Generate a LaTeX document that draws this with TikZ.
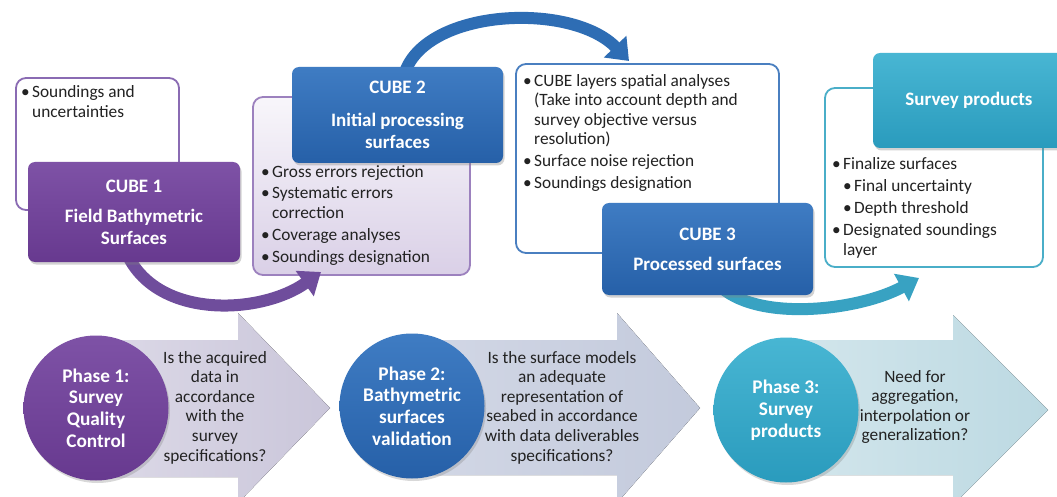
\documentclass[tikz,border=0pt]{standalone}
\usepackage{fontspec}
\setmainfont{Carlito}
\usetikzlibrary{arrows.meta,shadows}
\definecolor{purL}{HTML}{8A6BB3}
\definecolor{purD}{HTML}{67398F}
\definecolor{purT}{HTML}{7E52A6}
\definecolor{purA}{HTML}{6F4D9C}
\definecolor{bluT}{HTML}{3F7CC3}
\definecolor{bluD}{HTML}{2660A8}
\definecolor{bluL}{HTML}{4A7FC0}
\definecolor{bluA}{HTML}{2E6DB4}
\definecolor{tealT}{HTML}{48B6D3}
\definecolor{tealD}{HTML}{2A9BBD}
\definecolor{tealL}{HTML}{4AAEC8}
\definecolor{tealA}{HTML}{38A2C2}
\definecolor{txt}{HTML}{222222}
\definecolor{ar1L}{HTML}{DCD9E7}
\definecolor{ar1R}{HTML}{CAC6DA}
\definecolor{ar2L}{HTML}{D3D8E6}
\definecolor{ar2R}{HTML}{C3CADC}
\definecolor{ar3L}{HTML}{D3E6EC}
\definecolor{ar3R}{HTML}{BCD9E2}
\newcommand\itm[1]{\makebox[11pt][l]{\textbullet}#1}
\newcommand\cnt[1]{\hspace*{11pt}#1}
\begin{document}
\begin{tikzpicture}[x=1pt,y=-1pt,
  obox/.style={rounded corners=10pt, line width=1.8pt, inner sep=0pt},
  cube/.style={rounded corners=7pt, inner sep=0pt, text=white, align=center,
     font=\fontsize{19}{22}\selectfont\bfseries,
     drop shadow={shadow xshift=1.5pt, shadow yshift=-2.5pt, opacity=0.35}},
  btext/.style={anchor=north west, inner sep=0pt, align=left, text=txt,
     font=\fontsize{17.3}{19.8}\selectfont},
  qtext/.style={inner sep=0pt, align=center, text=txt,
     font=\fontsize{17.3}{19.6}\selectfont},
  phase/.style={circle, minimum size=145pt, inner sep=0pt, text=white, align=center,
     font=\fontsize{19.3}{21.8}\selectfont\bfseries,
     drop shadow={shadow xshift=1.5pt, shadow yshift=-2.5pt, opacity=0.3}},
  carr/.style={line width=12pt, -{Triangle[width=30pt,length=20pt]}},
]
\useasboundingbox (0,0) rectangle (1057,497);
\clip (0,0) rectangle (1057,497);
\fill[white] (0,0) rectangle (1057,497);

% ---- bottom block arrows
\fill[left color=ar1L, right color=ar1R]
  (100,340) -- (238,340) -- (238,313) -- (330,408) -- (238,503) -- (238,477) -- (100,477) -- cycle;
\fill[left color=ar2L, right color=ar2R]
  (400,340) -- (617,340) -- (617,313) -- (700,408) -- (617,503) -- (617,475) -- (400,475) -- cycle;
\fill[left color=ar3L, right color=ar3R]
  (786,340) -- (953,340) -- (953,315) -- (1048,410) -- (953,505) -- (953,475) -- (786,475) -- cycle;

% ---- phase circles
\node[phase, top color=purT, bottom color=purD] (p1) at (96,408)
  {Phase 1:\\Survey\\Quality\\Control};
\node[phase, top color=bluT, bottom color=bluD] (p2) at (412,406)
  {Phase 2:\\Bathymetric\\surfaces\\validation};
\node[phase, top color=tealT, bottom color=tealD] (p3) at (786,410)
  {Phase 3:\\Survey\\products};

\node[qtext] (q1) at (215,407.5)
  {Is the acquired\\data in\\accordance\\with the\\survey\\specifications?};
\node[qtext] (q2) at (562,407.5)
  {Is the surface models\\an adequate\\representation of\\seabed in accordance\\with data deliverables\\specifications?};
\node[qtext] (q3) at (915,407)
  {Need for\\aggregation,\\interpolation or\\generalization?};

% ---- outline boxes
\node[obox, draw=purL, fill=white, minimum width=163pt, minimum height=132pt] (A) at (97.5,144) {};
\node[obox, draw=purL!85, top color=white!94!purL, bottom color=white!68!purL,
  minimum width=217pt, minimum height=178pt] (B) at (361.5,186) {};
\node[obox, draw=bluL, fill=white, minimum width=263pt, minimum height=189pt] (C) at (647.5,158.5) {};
\node[obox, draw=tealL, fill=white, minimum width=218pt, minimum height=179pt] (D) at (934,177.5) {};

\node[btext] (At) at (21,85) {\itm{Soundings and}\\\cnt{uncertainties}};
\node[btext] (Bt) at (261,165)
  {\itm{Gross errors rejection}\\[1.8pt]\itm{Systematic errors}\\\cnt{correction}\\[2.4pt]\itm{Coverage analyses}\\[1.8pt]\itm{Soundings designation}};
\node[btext] (Ct) at (523,74)
  {\itm{CUBE layers spatial analyses}\\[-0.4pt]\cnt{(Take into account depth and}\\[-0.4pt]\cnt{survey objective versus}\\[-0.4pt]\cnt{resolution)}\\[2pt]\itm{Surface noise rejection}\\[2.2pt]\itm{Soundings designation}};
\node[btext] (Dt) at (832,157)
  {\itm{Finalize surfaces}\\[2.8pt]\hspace*{11pt}\itm{Final uncertainty}\\[1.4pt]\hspace*{11pt}\itm{Depth threshold}\\[3pt]\itm{Designated soundings}\\\cnt{layer}};

% ---- curved arrows
\coordinate (a1s) at (128,256);
\coordinate (a1e) at (321,272);
\coordinate (a2s) at (405,72);
\coordinate (a2e) at (629,61);
\coordinate (a3s) at (722,288);
\coordinate (a3e) at (919,278);
\draw[carr, purA] (a1s) .. controls (160,320) and (262,314) .. (a1e);
\draw[carr, bluA] (a2s) .. controls (428,8) and (572,2) .. (a2e);
\draw[carr, tealA] (a3s) .. controls (762,322) and (860,310) .. (a3e);

% ---- cube boxes
\node[cube, top color=purT, bottom color=purD, minimum width=212pt, minimum height=100pt] (c1) at (134,212)
  {CUBE 1\\[8pt]Field Bathymetric\\Surfaces};
\node[cube, top color=bluT, bottom color=bluD, minimum width=211pt, minimum height=96pt] (c2) at (397.5,115)
  {CUBE 2\\[11pt]Initial processing\\surfaces};
\node[cube, top color=bluT, bottom color=bluD, minimum width=211pt, minimum height=92pt] (c3) at (707.5,249)
  {CUBE 3\\[8pt]Processed surfaces};
\node[cube, top color=tealT, bottom color=tealD, minimum width=192pt, minimum height=95pt] (sp) at (969,100.5)
  {Survey products};
\end{tikzpicture}
\end{document}
